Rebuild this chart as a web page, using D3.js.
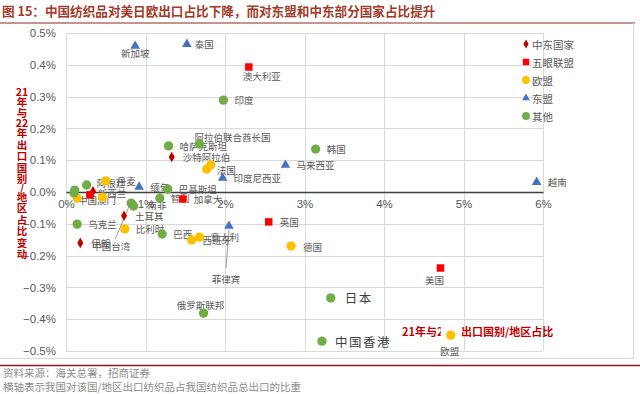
<!DOCTYPE html>
<html>
<head>
<meta charset="utf-8">
<script src="https://cdn.jsdelivr.net/npm/d3@7"></script>
<style>
  body { margin: 0; background: #fff; }
  svg { display: block; font-family: "Noto Sans CJK SC", "Liberation Sans", sans-serif; }
</style>
</head>
<body>
<script>
// series (x: share of China's textile exports to the country, %; y: change 21->22, %)
var seriesNames = ["中东国家", "五眼联盟", "欧盟", "东盟", "其他"];

var meNames = ["沙特阿拉伯", "土耳其", "伊朗", ""];
var meX = [1.33, 0.73, 0.18, 0.34];
var meY = [0.110, -0.075, -0.160, 0.002];

var fiveNames = ["澳大利亚", "英国", "美国", "加拿大", "新西兰"];
var fiveX = [2.30, 2.55, 4.71, 1.47, 0.30];
var fiveY = [0.393, -0.094, -0.239, -0.022, -0.009];

var euNames = ["欧盟", "德国", "法国", "", "西班牙", "意大利", "比利时", "丹麦", "", ""];
var euX = [4.84, 2.83, 1.77, 1.82, 1.58, 1.68, 0.74, 0.50, 0.14, 0.46];
var euY = [-0.450, -0.170, 0.072, 0.085, -0.151, -0.142, -0.116, 0.035, -0.019, -0.016];

var aseanNames = ["新加坡", "泰国", "马来西亚", "印度尼西亚", "越南", "菲律宾", "缅甸"];
var aseanX = [0.87, 1.52, 2.76, 1.97, 5.92, 2.05, 0.92];
var aseanY = [0.459, 0.465, 0.085, 0.044, 0.031, -0.107, 0.016];

var otherNames = ["印度", "韩国", "阿拉伯联合酋长国", "哈萨克斯坦", "巴基斯坦", "日本", "中国香港",
  "俄罗斯联邦", "巴西", "乌克兰", "智利", "中国台湾", "南非", "阿根廷", "中国澳门", ""];
var otherX = [1.98, 3.14, 1.68, 1.29, 1.28, 3.33, 3.22, 1.73, 1.21, 0.14, 1.18, 0.82, 0.85, 0.26, 0.10, 0.11];
var otherY = [0.289, 0.135, 0.151, 0.145, 0.009, -0.333, -0.469, -0.381, -0.132, -0.101, -0.019, -0.035, -0.044, 0.022, -0.003, 0.006];

var xTicks = [0, 1, 2, 3, 4, 5, 6];
var yTicks = [-0.5, -0.4, -0.3, -0.2, -0.1, 0, 0.1, 0.2, 0.3, 0.4, 0.5];

var colors = ["#C00000", "#FF0000", "#FFC000", "#4472C4", "#70AD47"];
var symbols = [d3.symbolDiamond, d3.symbolSquare, d3.symbolCircle, d3.symbolTriangle, d3.symbolCircle];
var symSize = [32, 56, 68, 40, 68];

// label placement: [dx, dy, anchor]; default is to the right of the marker
var labelPlace = {
  "新加坡": [0, 7, "middle"], "泰国": [8, 0, "start"], "澳大利亚": [-6, 9, "start"],
  "美国": [-6, 12, "middle"], "欧盟": [-1, 16, "middle"], "俄罗斯联邦": [-3, -8, "middle"],
  "阿拉伯联合酋长国": [-5, -7, "start"], "法国": [10, 1, "start"], "阿根廷": [10, -2, "start"],
  "中国澳门": [4, 7, "start"], "新西兰": [8, -2, "start"], "南非": [14, -1, "start"],
  "日本": [14, 0, "start"], "中国香港": [13, 0, "start"], "菲律宾": [-3, 53, "middle"],
  "中国台湾": [-39, 43, "start"], "德国": [12, 1, "start"]
};
var bigLabels = ["日本", "中国香港"];
var leaders = { "菲律宾": [[0, 4], [-3, 42]], "中国台湾": [[-2, 3], [-16, 36]] };

var W = 640, H = 394;
var svg = d3.select("body").append("svg").attr("width", W).attr("height", H);

// title
svg.append("text").attr("x", 2).attr("y", 16)
  .attr("fill", "#A33B2A").style("font-size", "12.6px").style("font-weight", "bold")
  .text("图 15：中国纺织品对美日欧出口占比下降，而对东盟和中东部分国家占比提升");
svg.append("line").attr("x1", 0).attr("x2", 635).attr("y1", 23).attr("y2", 23)
  .attr("stroke", "#8E2B22").attr("stroke-width", 1.2);

// frame (right & bottom)
svg.append("line").attr("x1", 633.5).attr("x2", 633.5).attr("y1", 23).attr("y2", 358)
  .attr("stroke", "#D9D9D9");
svg.append("line").attr("x1", 0).attr("x2", 634).attr("y1", 358.5).attr("y2", 358.5)
  .attr("stroke", "#D9D9D9");
svg.append("line").attr("x1", 0).attr("x2", 640).attr("y1", 365.5).attr("y2", 365.5)
  .attr("stroke", "#8E1A1A").attr("stroke-width", 1.5);

// footer
svg.append("text").attr("x", 3).attr("y", 377).attr("fill", "#8c8c8c").style("font-size", "10.5px")
  .text("资料来源：海关总署，招商证券");
svg.append("text").attr("x", 3).attr("y", 391).attr("fill", "#8c8c8c").style("font-size", "10.5px")
  .text("横轴表示我国对该国/地区出口纺织品占我国纺织品总出口的比重");

var x = d3.scaleLinear().domain([0, 6]).range([66, 543]);
var y = d3.scaleLinear().domain([-0.5, 0.5]).range([351, 33]);

// grid
var grid = svg.append("g");
grid.selectAll("line.h").data(yTicks).enter().append("line")
  .attr("x1", x(0)).attr("x2", x(6))
  .attr("y1", function (d) { return Math.round(y(d)) + 0.5; })
  .attr("y2", function (d) { return Math.round(y(d)) + 0.5; })
  .attr("stroke", "#D9D9D9");
grid.selectAll("line.v").data(xTicks).enter().append("line")
  .attr("y1", y(0.5)).attr("y2", y(-0.5))
  .attr("x1", function (d) { return Math.round(x(d)) + 0.5; })
  .attr("x2", function (d) { return Math.round(x(d)) + 0.5; })
  .attr("stroke", "#D9D9D9");

// y axis labels
var yAxis = svg.append("g").attr("transform", "translate(" + x(0) + ",0)")
  .call(d3.axisLeft(y).tickValues(yTicks).tickSize(0).tickPadding(10)
    .tickFormat(function (d) { return d3.format(".1f")(d) + "%"; }));
yAxis.select(".domain").remove();
yAxis.selectAll("text").attr("fill", "#595959")
  .style("font-family", "'Liberation Sans', Arial, sans-serif").style("font-size", "11.5px");

// x axis along zero
var xAxis = svg.append("g").attr("transform", "translate(0," + y(0) + ")")
  .call(d3.axisBottom(x).tickValues(xTicks).tickSize(0).tickPadding(8)
    .tickFormat(function (d) { return d + "%"; }));
xAxis.select(".domain").attr("stroke", "#404040").attr("stroke-width", 1.5);
xAxis.selectAll("text").attr("fill", "#595959")
  .style("font-family", "'Liberation Sans', Arial, sans-serif").style("font-size", "11.5px");

// y axis title (vertical, upright)
var ySegs = ["21", "年", "与", "22", "年", "出", "口", "国", "别", "/", "地", "区", "占", "比", "变", "动"];
var adv = function (t) { return /^\d+$/.test(t) ? 8.5 : (t === "/" ? 6 : 11.5); };
var yPos = [], cy = 91;
ySegs.forEach(function (s, i) {
  yPos.push(cy);
  if (i < ySegs.length - 1) cy += (adv(s) + adv(ySegs[i + 1])) / 2;
});
svg.append("g").selectAll("text").data(ySegs).enter().append("text")
  .attr("x", 22).attr("y", function (d, i) { return yPos[i]; })
  .attr("text-anchor", "middle").attr("dominant-baseline", "central")
  .attr("fill", "#C00000").style("font-size", "10.5px").style("font-weight", "bold")
  .text(function (d) { return d; });

// annotation near bottom
svg.append("text").attr("x", 402).attr("y", 336)
  .attr("fill", "#C00000").style("font-size", "11px").style("font-weight", "bold")
  .text("21年与22年出口国别/地区占比");
// white patch behind the EU point (as in the reference)
svg.append("rect").attr("x", x(4.84) - 10).attr("y", y(-0.45) - 9)
  .attr("width", 21).attr("height", 16).attr("fill", "#fff");

// points
var groups = [
  [meNames, meX, meY], [fiveNames, fiveX, fiveY], [euNames, euX, euY],
  [aseanNames, aseanX, aseanY], [otherNames, otherX, otherY]
];
var pts = [];
groups.forEach(function (g, si) {
  g[0].forEach(function (n, i) { pts.push({ name: n, x: g[1][i], y: g[2][i], s: si }); });
});

var labels = svg.append("g");
pts.forEach(function (p) {
  if (!p.name) return;
  var px = x(p.x), py = y(p.y);
  var pl = labelPlace[p.name] || [11, 0, "start"];
  var big = bigLabels.indexOf(p.name) >= 0;
  if (leaders[p.name]) {
    var L = leaders[p.name];
    labels.append("line")
      .attr("x1", px + L[0][0]).attr("y1", py + L[0][1])
      .attr("x2", px + L[1][0]).attr("y2", py + L[1][1])
      .attr("stroke", "#7f7f7f").attr("stroke-width", 0.8);
  }
  labels.append("text").attr("x", px + pl[0]).attr("y", py + pl[1])
    .attr("text-anchor", pl[2]).attr("dominant-baseline", "central")
    .attr("fill", big ? "#404040" : "#595959")
    .style("font-size", big ? "12.5px" : "9.5px")
    .style("letter-spacing", big ? "1.5px" : "0px")
    .text(p.name);
});

svg.append("g").selectAll("path").data(pts).enter().append("path")
  .attr("transform", function (d) { return "translate(" + x(d.x) + "," + y(d.y) + ")"; })
  .attr("d", function (d) { return d3.symbol().type(symbols[d.s]).size(symSize[d.s])(); })
  .attr("fill", function (d) { return colors[d.s]; });

// legend
var leg = svg.append("g").selectAll("g").data(seriesNames).enter().append("g")
  .attr("transform", function (d, i) { return "translate(526," + (44 + i * 18) + ")"; });
var legSize = [24, 42, 50, 26, 50];
leg.append("path")
  .attr("d", function (d, i) { return d3.symbol().type(symbols[i]).size(legSize[i])(); })
  .attr("fill", function (d, i) { return colors[i]; });
leg.append("text").attr("x", 6).attr("dominant-baseline", "central")
  .attr("fill", "#595959").style("font-size", "10.5px")
  .text(function (d) { return d; });
</script>
</body>
</html>
